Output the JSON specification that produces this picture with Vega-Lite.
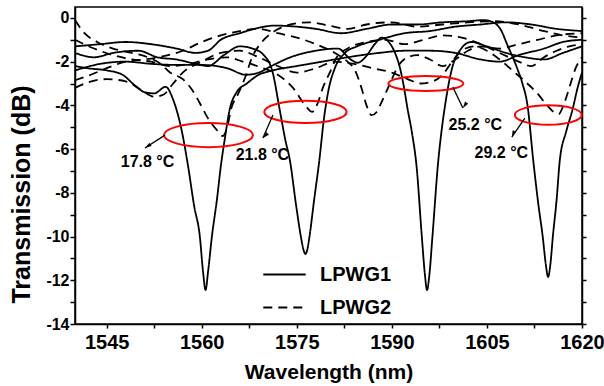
{
"$schema": "https://vega.github.io/schema/vega-lite/v6.json",
"width": 507, "height": 317,
"autosize": {"type": "none"},
"padding": {"left": 75, "top": 7, "right": 22, "bottom": 62},
"background": "white",
"config": {
  "view": {"stroke": "#000", "strokeWidth": 1.5},
  "font": "Liberation Sans",
  "axis": {"domainColor": "#000", "domainWidth": 1.5, "tickColor": "#000", "tickWidth": 1.5, "labelColor": "#000", "titleColor": "#000", "labelFont": "Liberation Sans", "labelFontWeight": "bold", "titleFont": "Liberation Sans", "titleFontWeight": "bold", "grid": false, "labelOverlap": false}
},
"datasets": {
  "curves": [
    {"curve":"S1","series":"LPWG1","wl":1540,"db":-2.2},{"curve":"S1","series":"LPWG1","wl":1542,"db":-2.3},{"curve":"S1","series":"LPWG1","wl":1545,"db":-2.4},{"curve":"S1","series":"LPWG1","wl":1547.5,"db":-2.6},{"curve":"S1","series":"LPWG1","wl":1549.5,"db":-3.1},{"curve":"S1","series":"LPWG1","wl":1551,"db":-3.4},{"curve":"S1","series":"LPWG1","wl":1552.5,"db":-3.45},{"curve":"S1","series":"LPWG1","wl":1554.3,"db":-3.15},{"curve":"S1","series":"LPWG1","wl":1555.5,"db":-3.75},{"curve":"S1","series":"LPWG1","wl":1556.8,"db":-5.1},{"curve":"S1","series":"LPWG1","wl":1557.8,"db":-6.7},{"curve":"S1","series":"LPWG1","wl":1558.8,"db":-8.6},{"curve":"S1","series":"LPWG1","wl":1559.7,"db":-10.0},{"curve":"S1","series":"LPWG1","wl":1560.2,"db":-11.6},{"curve":"S1","series":"LPWG1","wl":1560.6,"db":-12.45},{"curve":"S1","series":"LPWG1","wl":1561.0,"db":-11.6},{"curve":"S1","series":"LPWG1","wl":1561.6,"db":-10.0},{"curve":"S1","series":"LPWG1","wl":1562.4,"db":-8.3},{"curve":"S1","series":"LPWG1","wl":1563.0,"db":-6.8},{"curve":"S1","series":"LPWG1","wl":1563.6,"db":-5.6},{"curve":"S1","series":"LPWG1","wl":1564.4,"db":-4.2},{"curve":"S1","series":"LPWG1","wl":1565.5,"db":-3.4},{"curve":"S1","series":"LPWG1","wl":1567.1,"db":-3.0},{"curve":"S1","series":"LPWG1","wl":1569,"db":-2.6},{"curve":"S1","series":"LPWG1","wl":1571.2,"db":-2.4},{"curve":"S1","series":"LPWG1","wl":1575,"db":-2.2},{"curve":"S1","series":"LPWG1","wl":1579,"db":-2.0},{"curve":"S1","series":"LPWG1","wl":1583,"db":-1.8},{"curve":"S1","series":"LPWG1","wl":1588,"db":-1.6},{"curve":"S1","series":"LPWG1","wl":1592,"db":-1.5},{"curve":"S1","series":"LPWG1","wl":1596,"db":-1.5},{"curve":"S1","series":"LPWG1","wl":1600,"db":-1.6},{"curve":"S1","series":"LPWG1","wl":1604,"db":-1.9},{"curve":"S1","series":"LPWG1","wl":1607,"db":-2.0},{"curve":"S1","series":"LPWG1","wl":1610,"db":-1.7},{"curve":"S1","series":"LPWG1","wl":1614,"db":-1.4},{"curve":"S1","series":"LPWG1","wl":1617,"db":-1.1},{"curve":"S1","series":"LPWG1","wl":1620,"db":-1.0},

    {"curve":"S2","series":"LPWG1","wl":1540,"db":-1.6},{"curve":"S2","series":"LPWG1","wl":1543,"db":-1.8},{"curve":"S2","series":"LPWG1","wl":1546,"db":-1.6},{"curve":"S2","series":"LPWG1","wl":1550,"db":-1.5},{"curve":"S2","series":"LPWG1","wl":1553,"db":-1.8},{"curve":"S2","series":"LPWG1","wl":1556,"db":-1.9},{"curve":"S2","series":"LPWG1","wl":1559,"db":-2.1},{"curve":"S2","series":"LPWG1","wl":1561,"db":-2.2},{"curve":"S2","series":"LPWG1","wl":1563.5,"db":-1.7},{"curve":"S2","series":"LPWG1","wl":1566,"db":-1.3},{"curve":"S2","series":"LPWG1","wl":1568,"db":-1.4},{"curve":"S2","series":"LPWG1","wl":1569.8,"db":-1.7},{"curve":"S2","series":"LPWG1","wl":1571.2,"db":-2.5},{"curve":"S2","series":"LPWG1","wl":1572.3,"db":-4.2},{"curve":"S2","series":"LPWG1","wl":1573.2,"db":-5.6},{"curve":"S2","series":"LPWG1","wl":1573.9,"db":-6.5},{"curve":"S2","series":"LPWG1","wl":1574.9,"db":-8.6},{"curve":"S2","series":"LPWG1","wl":1575.7,"db":-10.1},{"curve":"S2","series":"LPWG1","wl":1576.05,"db":-10.6},{"curve":"S2","series":"LPWG1","wl":1576.35,"db":-10.8},{"curve":"S2","series":"LPWG1","wl":1576.65,"db":-10.6},{"curve":"S2","series":"LPWG1","wl":1577.0,"db":-10.0},{"curve":"S2","series":"LPWG1","wl":1577.7,"db":-8.4},{"curve":"S2","series":"LPWG1","wl":1578.6,"db":-6.4},{"curve":"S2","series":"LPWG1","wl":1579.2,"db":-4.8},{"curve":"S2","series":"LPWG1","wl":1580.0,"db":-3.3},{"curve":"S2","series":"LPWG1","wl":1581.0,"db":-2.3},{"curve":"S2","series":"LPWG1","wl":1582.6,"db":-1.6},{"curve":"S2","series":"LPWG1","wl":1584.5,"db":-1.3},{"curve":"S2","series":"LPWG1","wl":1588,"db":-1.0},{"curve":"S2","series":"LPWG1","wl":1592,"db":-0.7},{"curve":"S2","series":"LPWG1","wl":1596,"db":-0.6},{"curve":"S2","series":"LPWG1","wl":1600,"db":-0.4},{"curve":"S2","series":"LPWG1","wl":1604,"db":-0.3},{"curve":"S2","series":"LPWG1","wl":1608,"db":-0.2},{"curve":"S2","series":"LPWG1","wl":1612,"db":-0.3},{"curve":"S2","series":"LPWG1","wl":1616,"db":-0.5},{"curve":"S2","series":"LPWG1","wl":1620,"db":-0.6},

    {"curve":"S3","series":"LPWG1","wl":1540,"db":-2.4},{"curve":"S3","series":"LPWG1","wl":1544,"db":-2.1},{"curve":"S3","series":"LPWG1","wl":1548,"db":-2.0},{"curve":"S3","series":"LPWG1","wl":1552,"db":-2.1},{"curve":"S3","series":"LPWG1","wl":1556,"db":-2.15},{"curve":"S3","series":"LPWG1","wl":1560,"db":-2.15},{"curve":"S3","series":"LPWG1","wl":1564,"db":-2.3},{"curve":"S3","series":"LPWG1","wl":1567,"db":-2.6},{"curve":"S3","series":"LPWG1","wl":1569,"db":-2.5},{"curve":"S3","series":"LPWG1","wl":1571,"db":-2.2},{"curve":"S3","series":"LPWG1","wl":1574,"db":-1.8},{"curve":"S3","series":"LPWG1","wl":1578,"db":-1.5},{"curve":"S3","series":"LPWG1","wl":1581.5,"db":-1.4},{"curve":"S3","series":"LPWG1","wl":1583.5,"db":-1.9},{"curve":"S3","series":"LPWG1","wl":1584.6,"db":-2.05},{"curve":"S3","series":"LPWG1","wl":1585.8,"db":-1.8},{"curve":"S3","series":"LPWG1","wl":1587.3,"db":-1.2},{"curve":"S3","series":"LPWG1","wl":1588.4,"db":-0.9},{"curve":"S3","series":"LPWG1","wl":1589.5,"db":-1.1},{"curve":"S3","series":"LPWG1","wl":1590.5,"db":-1.6},{"curve":"S3","series":"LPWG1","wl":1591.2,"db":-2.2},{"curve":"S3","series":"LPWG1","wl":1591.8,"db":-3.0},{"curve":"S3","series":"LPWG1","wl":1592.5,"db":-4.2},{"curve":"S3","series":"LPWG1","wl":1593.2,"db":-5.3},{"curve":"S3","series":"LPWG1","wl":1593.9,"db":-6.8},{"curve":"S3","series":"LPWG1","wl":1594.7,"db":-9.9},{"curve":"S3","series":"LPWG1","wl":1595.2,"db":-11.7},{"curve":"S3","series":"LPWG1","wl":1595.55,"db":-12.45},{"curve":"S3","series":"LPWG1","wl":1595.9,"db":-11.8},{"curve":"S3","series":"LPWG1","wl":1596.4,"db":-10.0},{"curve":"S3","series":"LPWG1","wl":1597.3,"db":-6.6},{"curve":"S3","series":"LPWG1","wl":1598.0,"db":-4.8},{"curve":"S3","series":"LPWG1","wl":1598.5,"db":-3.8},{"curve":"S3","series":"LPWG1","wl":1599.5,"db":-2.3},{"curve":"S3","series":"LPWG1","wl":1600.7,"db":-1.5},{"curve":"S3","series":"LPWG1","wl":1602.5,"db":-1.1},{"curve":"S3","series":"LPWG1","wl":1605,"db":-1.3},{"curve":"S3","series":"LPWG1","wl":1608,"db":-1.6},{"curve":"S3","series":"LPWG1","wl":1611,"db":-1.8},{"curve":"S3","series":"LPWG1","wl":1614,"db":-1.9},{"curve":"S3","series":"LPWG1","wl":1617,"db":-1.6},{"curve":"S3","series":"LPWG1","wl":1620,"db":-1.3},

    {"curve":"S4","series":"LPWG1","wl":1540,"db":-1.3},{"curve":"S4","series":"LPWG1","wl":1544,"db":-1.2},{"curve":"S4","series":"LPWG1","wl":1548,"db":-1.1},{"curve":"S4","series":"LPWG1","wl":1552,"db":-1.2},{"curve":"S4","series":"LPWG1","wl":1556,"db":-1.4},{"curve":"S4","series":"LPWG1","wl":1559,"db":-1.6},{"curve":"S4","series":"LPWG1","wl":1561,"db":-1.5},{"curve":"S4","series":"LPWG1","wl":1563,"db":-1.0},{"curve":"S4","series":"LPWG1","wl":1566,"db":-0.7},{"curve":"S4","series":"LPWG1","wl":1569,"db":-0.45},{"curve":"S4","series":"LPWG1","wl":1571.5,"db":-0.35},{"curve":"S4","series":"LPWG1","wl":1575,"db":-0.4},{"curve":"S4","series":"LPWG1","wl":1578,"db":-0.5},{"curve":"S4","series":"LPWG1","wl":1582,"db":-0.7},{"curve":"S4","series":"LPWG1","wl":1586,"db":-0.5},{"curve":"S4","series":"LPWG1","wl":1590,"db":-0.3},{"curve":"S4","series":"LPWG1","wl":1594,"db":-0.3},{"curve":"S4","series":"LPWG1","wl":1598,"db":-0.2},{"curve":"S4","series":"LPWG1","wl":1602,"db":-0.15},{"curve":"S4","series":"LPWG1","wl":1604.5,"db":-0.1},{"curve":"S4","series":"LPWG1","wl":1606,"db":-0.2},{"curve":"S4","series":"LPWG1","wl":1607.3,"db":-0.6},{"curve":"S4","series":"LPWG1","wl":1608.1,"db":-1.15},{"curve":"S4","series":"LPWG1","wl":1609.7,"db":-2.25},{"curve":"S4","series":"LPWG1","wl":1610.6,"db":-3.0},{"curve":"S4","series":"LPWG1","wl":1611.4,"db":-4.0},{"curve":"S4","series":"LPWG1","wl":1612.3,"db":-6.5},{"curve":"S4","series":"LPWG1","wl":1613.1,"db":-8.5},{"curve":"S4","series":"LPWG1","wl":1613.8,"db":-10.0},{"curve":"S4","series":"LPWG1","wl":1614.3,"db":-11.3},{"curve":"S4","series":"LPWG1","wl":1614.65,"db":-11.85},{"curve":"S4","series":"LPWG1","wl":1615.0,"db":-11.3},{"curve":"S4","series":"LPWG1","wl":1615.4,"db":-10.0},{"curve":"S4","series":"LPWG1","wl":1616.0,"db":-8.3},{"curve":"S4","series":"LPWG1","wl":1616.5,"db":-6.5},{"curve":"S4","series":"LPWG1","wl":1617.5,"db":-5.2},{"curve":"S4","series":"LPWG1","wl":1618.5,"db":-4.2},{"curve":"S4","series":"LPWG1","wl":1619.3,"db":-3.2},{"curve":"S4","series":"LPWG1","wl":1620,"db":-2.5},

    {"curve":"D1","series":"LPWG2","wl":1540,"db":-0.1},{"curve":"D1","series":"LPWG2","wl":1541.5,"db":-0.7},{"curve":"D1","series":"LPWG2","wl":1543.5,"db":-1.1},{"curve":"D1","series":"LPWG2","wl":1546,"db":-1.4},{"curve":"D1","series":"LPWG2","wl":1549,"db":-1.6},{"curve":"D1","series":"LPWG2","wl":1551.5,"db":-1.8},{"curve":"D1","series":"LPWG2","wl":1553.5,"db":-2.1},{"curve":"D1","series":"LPWG2","wl":1555,"db":-2.5},{"curve":"D1","series":"LPWG2","wl":1557,"db":-2.8},{"curve":"D1","series":"LPWG2","wl":1558.5,"db":-3.3},{"curve":"D1","series":"LPWG2","wl":1559.7,"db":-3.9},{"curve":"D1","series":"LPWG2","wl":1561,"db":-4.6},{"curve":"D1","series":"LPWG2","wl":1562.3,"db":-5.1},{"curve":"D1","series":"LPWG2","wl":1563.3,"db":-5.4},{"curve":"D1","series":"LPWG2","wl":1564.1,"db":-4.9},{"curve":"D1","series":"LPWG2","wl":1564.6,"db":-4.2},{"curve":"D1","series":"LPWG2","wl":1565.7,"db":-3.5},{"curve":"D1","series":"LPWG2","wl":1567,"db":-2.6},{"curve":"D1","series":"LPWG2","wl":1567.8,"db":-1.9},{"curve":"D1","series":"LPWG2","wl":1569.5,"db":-1.1},{"curve":"D1","series":"LPWG2","wl":1571.5,"db":-0.6},{"curve":"D1","series":"LPWG2","wl":1574,"db":-0.3},{"curve":"D1","series":"LPWG2","wl":1577,"db":-0.2},{"curve":"D1","series":"LPWG2","wl":1580,"db":-0.35},{"curve":"D1","series":"LPWG2","wl":1583,"db":-0.5},{"curve":"D1","series":"LPWG2","wl":1586,"db":-0.3},{"curve":"D1","series":"LPWG2","wl":1590,"db":-0.2},{"curve":"D1","series":"LPWG2","wl":1594,"db":-0.4},{"curve":"D1","series":"LPWG2","wl":1598,"db":-0.3},{"curve":"D1","series":"LPWG2","wl":1602,"db":-0.2},{"curve":"D1","series":"LPWG2","wl":1606,"db":-0.15},{"curve":"D1","series":"LPWG2","wl":1610,"db":-0.3},{"curve":"D1","series":"LPWG2","wl":1614,"db":-0.6},{"curve":"D1","series":"LPWG2","wl":1617,"db":-0.8},{"curve":"D1","series":"LPWG2","wl":1620,"db":-0.9},

    {"curve":"D2","series":"LPWG2","wl":1540,"db":-1.0},{"curve":"D2","series":"LPWG2","wl":1543,"db":-1.4},{"curve":"D2","series":"LPWG2","wl":1546,"db":-1.7},{"curve":"D2","series":"LPWG2","wl":1549,"db":-1.9},{"curve":"D2","series":"LPWG2","wl":1552,"db":-2.0},{"curve":"D2","series":"LPWG2","wl":1555,"db":-2.2},{"curve":"D2","series":"LPWG2","wl":1558,"db":-2.1},{"curve":"D2","series":"LPWG2","wl":1561,"db":-1.9},{"curve":"D2","series":"LPWG2","wl":1564,"db":-1.8},{"curve":"D2","series":"LPWG2","wl":1566.5,"db":-2.0},{"curve":"D2","series":"LPWG2","wl":1569.2,"db":-2.25},{"curve":"D2","series":"LPWG2","wl":1572,"db":-2.6},{"curve":"D2","series":"LPWG2","wl":1574.4,"db":-3.2},{"curve":"D2","series":"LPWG2","wl":1576.6,"db":-4.1},{"curve":"D2","series":"LPWG2","wl":1577.4,"db":-4.3},{"curve":"D2","series":"LPWG2","wl":1578.3,"db":-3.9},{"curve":"D2","series":"LPWG2","wl":1579.1,"db":-3.2},{"curve":"D2","series":"LPWG2","wl":1580.2,"db":-2.5},{"curve":"D2","series":"LPWG2","wl":1581.3,"db":-1.8},{"curve":"D2","series":"LPWG2","wl":1583,"db":-1.4},{"curve":"D2","series":"LPWG2","wl":1586,"db":-1.1},{"curve":"D2","series":"LPWG2","wl":1589,"db":-1.0},{"curve":"D2","series":"LPWG2","wl":1592,"db":-1.2},{"curve":"D2","series":"LPWG2","wl":1595,"db":-1.0},{"curve":"D2","series":"LPWG2","wl":1598,"db":-0.8},{"curve":"D2","series":"LPWG2","wl":1601,"db":-0.9},{"curve":"D2","series":"LPWG2","wl":1604,"db":-1.2},{"curve":"D2","series":"LPWG2","wl":1607,"db":-1.6},{"curve":"D2","series":"LPWG2","wl":1610,"db":-2.0},{"curve":"D2","series":"LPWG2","wl":1612,"db":-2.2},{"curve":"D2","series":"LPWG2","wl":1614,"db":-1.8},{"curve":"D2","series":"LPWG2","wl":1616,"db":-1.5},{"curve":"D2","series":"LPWG2","wl":1618,"db":-1.3},{"curve":"D2","series":"LPWG2","wl":1620,"db":-1.2},

    {"curve":"D3","series":"LPWG2","wl":1540,"db":-2.85},{"curve":"D3","series":"LPWG2","wl":1542.5,"db":-2.6},{"curve":"D3","series":"LPWG2","wl":1545,"db":-2.3},{"curve":"D3","series":"LPWG2","wl":1548,"db":-2.0},{"curve":"D3","series":"LPWG2","wl":1551,"db":-1.9},{"curve":"D3","series":"LPWG2","wl":1554,"db":-1.75},{"curve":"D3","series":"LPWG2","wl":1557,"db":-1.5},{"curve":"D3","series":"LPWG2","wl":1560,"db":-1.1},{"curve":"D3","series":"LPWG2","wl":1563,"db":-0.8},{"curve":"D3","series":"LPWG2","wl":1566,"db":-0.6},{"curve":"D3","series":"LPWG2","wl":1569,"db":-0.5},{"curve":"D3","series":"LPWG2","wl":1572,"db":-0.7},{"curve":"D3","series":"LPWG2","wl":1575,"db":-0.9},{"curve":"D3","series":"LPWG2","wl":1578,"db":-1.2},{"curve":"D3","series":"LPWG2","wl":1581,"db":-1.6},{"curve":"D3","series":"LPWG2","wl":1583,"db":-2.0},{"curve":"D3","series":"LPWG2","wl":1584.2,"db":-2.4},{"curve":"D3","series":"LPWG2","wl":1585.3,"db":-3.3},{"curve":"D3","series":"LPWG2","wl":1586,"db":-4.0},{"curve":"D3","series":"LPWG2","wl":1586.8,"db":-4.45},{"curve":"D3","series":"LPWG2","wl":1587.6,"db":-4.3},{"curve":"D3","series":"LPWG2","wl":1588.3,"db":-3.9},{"curve":"D3","series":"LPWG2","wl":1589.7,"db":-3.0},{"curve":"D3","series":"LPWG2","wl":1591,"db":-2.2},{"curve":"D3","series":"LPWG2","wl":1592.5,"db":-1.8},{"curve":"D3","series":"LPWG2","wl":1594,"db":-1.7},{"curve":"D3","series":"LPWG2","wl":1596,"db":-1.9},{"curve":"D3","series":"LPWG2","wl":1598,"db":-2.2},{"curve":"D3","series":"LPWG2","wl":1600,"db":-1.9},{"curve":"D3","series":"LPWG2","wl":1602,"db":-1.5},{"curve":"D3","series":"LPWG2","wl":1604,"db":-1.3},{"curve":"D3","series":"LPWG2","wl":1607,"db":-1.4},{"curve":"D3","series":"LPWG2","wl":1610,"db":-1.2},{"curve":"D3","series":"LPWG2","wl":1613,"db":-1.0},{"curve":"D3","series":"LPWG2","wl":1616,"db":-0.8},{"curve":"D3","series":"LPWG2","wl":1620,"db":-0.7},

    {"curve":"D4","series":"LPWG2","wl":1540,"db":-3.2},{"curve":"D4","series":"LPWG2","wl":1542,"db":-2.95},{"curve":"D4","series":"LPWG2","wl":1545,"db":-2.8},{"curve":"D4","series":"LPWG2","wl":1548,"db":-2.9},{"curve":"D4","series":"LPWG2","wl":1550.5,"db":-3.3},{"curve":"D4","series":"LPWG2","wl":1552.5,"db":-3.6},{"curve":"D4","series":"LPWG2","wl":1554,"db":-3.5},{"curve":"D4","series":"LPWG2","wl":1555.5,"db":-3.0},{"curve":"D4","series":"LPWG2","wl":1557,"db":-2.5},{"curve":"D4","series":"LPWG2","wl":1560,"db":-2.0},{"curve":"D4","series":"LPWG2","wl":1563,"db":-1.6},{"curve":"D4","series":"LPWG2","wl":1566,"db":-1.5},{"curve":"D4","series":"LPWG2","wl":1569,"db":-1.8},{"curve":"D4","series":"LPWG2","wl":1572,"db":-2.2},{"curve":"D4","series":"LPWG2","wl":1575,"db":-2.5},{"curve":"D4","series":"LPWG2","wl":1578,"db":-2.3},{"curve":"D4","series":"LPWG2","wl":1581,"db":-2.0},{"curve":"D4","series":"LPWG2","wl":1584,"db":-2.1},{"curve":"D4","series":"LPWG2","wl":1587,"db":-2.3},{"curve":"D4","series":"LPWG2","wl":1590,"db":-2.5},{"curve":"D4","series":"LPWG2","wl":1592.5,"db":-2.8},{"curve":"D4","series":"LPWG2","wl":1594.5,"db":-3.0},{"curve":"D4","series":"LPWG2","wl":1596.5,"db":-2.9},{"curve":"D4","series":"LPWG2","wl":1598,"db":-2.6},{"curve":"D4","series":"LPWG2","wl":1599.5,"db":-2.0},{"curve":"D4","series":"LPWG2","wl":1601,"db":-1.5},{"curve":"D4","series":"LPWG2","wl":1603,"db":-1.3},{"curve":"D4","series":"LPWG2","wl":1605,"db":-1.5},{"curve":"D4","series":"LPWG2","wl":1607,"db":-1.9},{"curve":"D4","series":"LPWG2","wl":1609,"db":-2.4},{"curve":"D4","series":"LPWG2","wl":1611,"db":-2.9},{"curve":"D4","series":"LPWG2","wl":1612.8,"db":-3.4},{"curve":"D4","series":"LPWG2","wl":1614.5,"db":-4.0},{"curve":"D4","series":"LPWG2","wl":1615.5,"db":-4.3},{"curve":"D4","series":"LPWG2","wl":1616.3,"db":-4.4},{"curve":"D4","series":"LPWG2","wl":1617.2,"db":-3.9},{"curve":"D4","series":"LPWG2","wl":1618.2,"db":-3.0},{"curve":"D4","series":"LPWG2","wl":1619,"db":-2.3},{"curve":"D4","series":"LPWG2","wl":1620,"db":-1.8}
  ],
  "ellipses": [
    {"label":"17.8","wl":1561.06,"db":-5.36},
    {"label":"21.8","wl":1576.36,"db":-4.3},
    {"label":"25.2","wl":1595.36,"db":-3.0},
    {"label":"29.2","wl":1614.68,"db":-4.44}
  ],
  "arrows": [
    {"label":"17.8","wl":1554.2,"db":-5.36,"wl2":1551.04,"db2":-5.95},
    {"label":"21.8","wl":1571.23,"db":-4.44,"wl2":1569.65,"db2":-5.49},
    {"label":"25.2","wl":1599.62,"db":-3.16,"wl2":1601.2,"db2":-4.12},
    {"label":"29.2","wl":1610.98,"db":-4.58,"wl2":1608.93,"db2":-5.45}
  ],
  "labels": [
    {"text":"17.8 °C","wl":1551.44,"db":-6.59},
    {"text":"21.8 °C","wl":1569.57,"db":-6.27},
    {"text":"25.2 °C","wl":1603.17,"db":-4.9},
    {"text":"29.2 °C","wl":1607.27,"db":-6.18}
  ]
},
"layer": [
  {
    "data": {"name": "curves"},
    "mark": {"type": "line", "color": "#000", "strokeWidth": 1.8, "interpolate": "monotone"},
    "encoding": {
      "x": {"field": "wl", "type": "quantitative", "scale": {"domain": [1540, 1620], "nice": false, "zero": false},
        "axis": {"values": [1545,1552.5,1560,1567.5,1575,1582.5,1590,1597.5,1605,1612.5,1620], "labelExpr": "datum.value % 15 == 0 ? '' + datum.value : ''", "tickSize": 4, "labelPadding": 4, "labelFontSize": 20, "labelFlush": false, "title": "Wavelength (nm)", "titleFontSize": 21, "titleBaseline": "alphabetic", "titleY": 54}},
      "y": {"field": "db", "type": "quantitative", "scale": {"domain": [-14, 0.5], "nice": false, "zero": false},
        "axis": {"values": [-14,-13,-12,-11,-10,-9,-8,-7,-6,-5,-4,-3,-2,-1,0], "labelExpr": "datum.value % 2 == 0 ? '' + datum.value : ''", "tickSize": 5, "labelPadding": 1, "labelFontSize": 16, "title": "Transmission (dB)", "titleFontSize": 25, "titleBaseline": "alphabetic", "titleX": -46, "titleY": 187}},
      "detail": {"field": "curve"},
      "strokeDash": {"field": "series", "type": "nominal", "scale": {"domain": ["LPWG1", "LPWG2"], "range": [[1, 0], [9, 6]]},
        "legend": {"orient": "none", "legendX": 187, "legendY": 245, "title": null, "symbolType": "stroke", "symbolSize": 1800, "symbolStrokeWidth": 2, "symbolStrokeColor": "#000", "labelFontSize": 20, "labelFont": "Liberation Sans", "labelFontWeight": "bold", "labelColor": "#000", "labelOffset": 13, "rowPadding": 0, "padding": 0}}
    }
  },
  {
    "data": {"name": "ellipses"},
    "mark": {"type": "point", "filled": false, "color": "#f00", "strokeWidth": 2, "opacity": 1},
    "encoding": {
      "x": {"field": "wl", "type": "quantitative"},
      "y": {"field": "db", "type": "quantitative", "axis": null},
      "shape": {"field": "label", "type": "nominal", "legend": null, "scale": {"domain": ["17.8","21.8","25.2","29.2"], "range": ["M-1,0A1,0.27 0 1,0 1,0A1,0.27 0 1,0 -1,0Z", "M-1,0A1,0.27 0 1,0 1,0A1,0.27 0 1,0 -1,0Z", "M-1,0A1,0.2 0 1,0 1,0A1,0.2 0 1,0 -1,0Z", "M-1,0A1,0.29 0 1,0 1,0A1,0.29 0 1,0 -1,0Z"]}},
      "size": {"field": "label", "type": "ordinal", "legend": null, "scale": {"domain": ["17.8","21.8","25.2","29.2"], "range": [7921, 4489, 4356, 3025]}}
    }
  },
  {
    "data": {"name": "arrows"},
    "mark": {"type": "rule", "color": "#000", "strokeWidth": 1.3},
    "encoding": {
      "x": {"field": "wl", "type": "quantitative"},
      "y": {"field": "db", "type": "quantitative", "axis": null},
      "x2": {"field": "wl2"},
      "y2": {"field": "db2"}
    }
  },
  {
    "data": {"name": "arrows"},
    "mark": {"type": "point", "filled": true, "color": "#000", "opacity": 1, "shape": "M0,0L-0.5,1.7L0.5,1.7Z", "size": 60},
    "encoding": {
      "x": {"field": "wl2", "type": "quantitative"},
      "y": {"field": "db2", "type": "quantitative", "axis": null},
      "angle": {"field": "label", "type": "nominal", "legend": null, "scale": {"domain": ["17.8","21.8","25.2","29.2"], "range": [237, 203.5, 154.5, 214.4]}}
    }
  },
  {
    "data": {"name": "labels"},
    "mark": {"type": "text", "font": "Liberation Sans", "fontWeight": "bold", "fontSize": 16, "color": "#000", "align": "center", "baseline": "middle"},
    "encoding": {
      "x": {"field": "wl", "type": "quantitative"},
      "y": {"field": "db", "type": "quantitative", "axis": {"orient": "right", "values": [-14,-13,-12,-11,-10,-9,-8,-7,-6,-5,-4,-3,-2,-1,0], "labels": false, "title": null, "tickSize": 4}},
      "text": {"field": "text"}
    }
  }
],
"resolve": {"axis": {"y": "independent"}}
}
